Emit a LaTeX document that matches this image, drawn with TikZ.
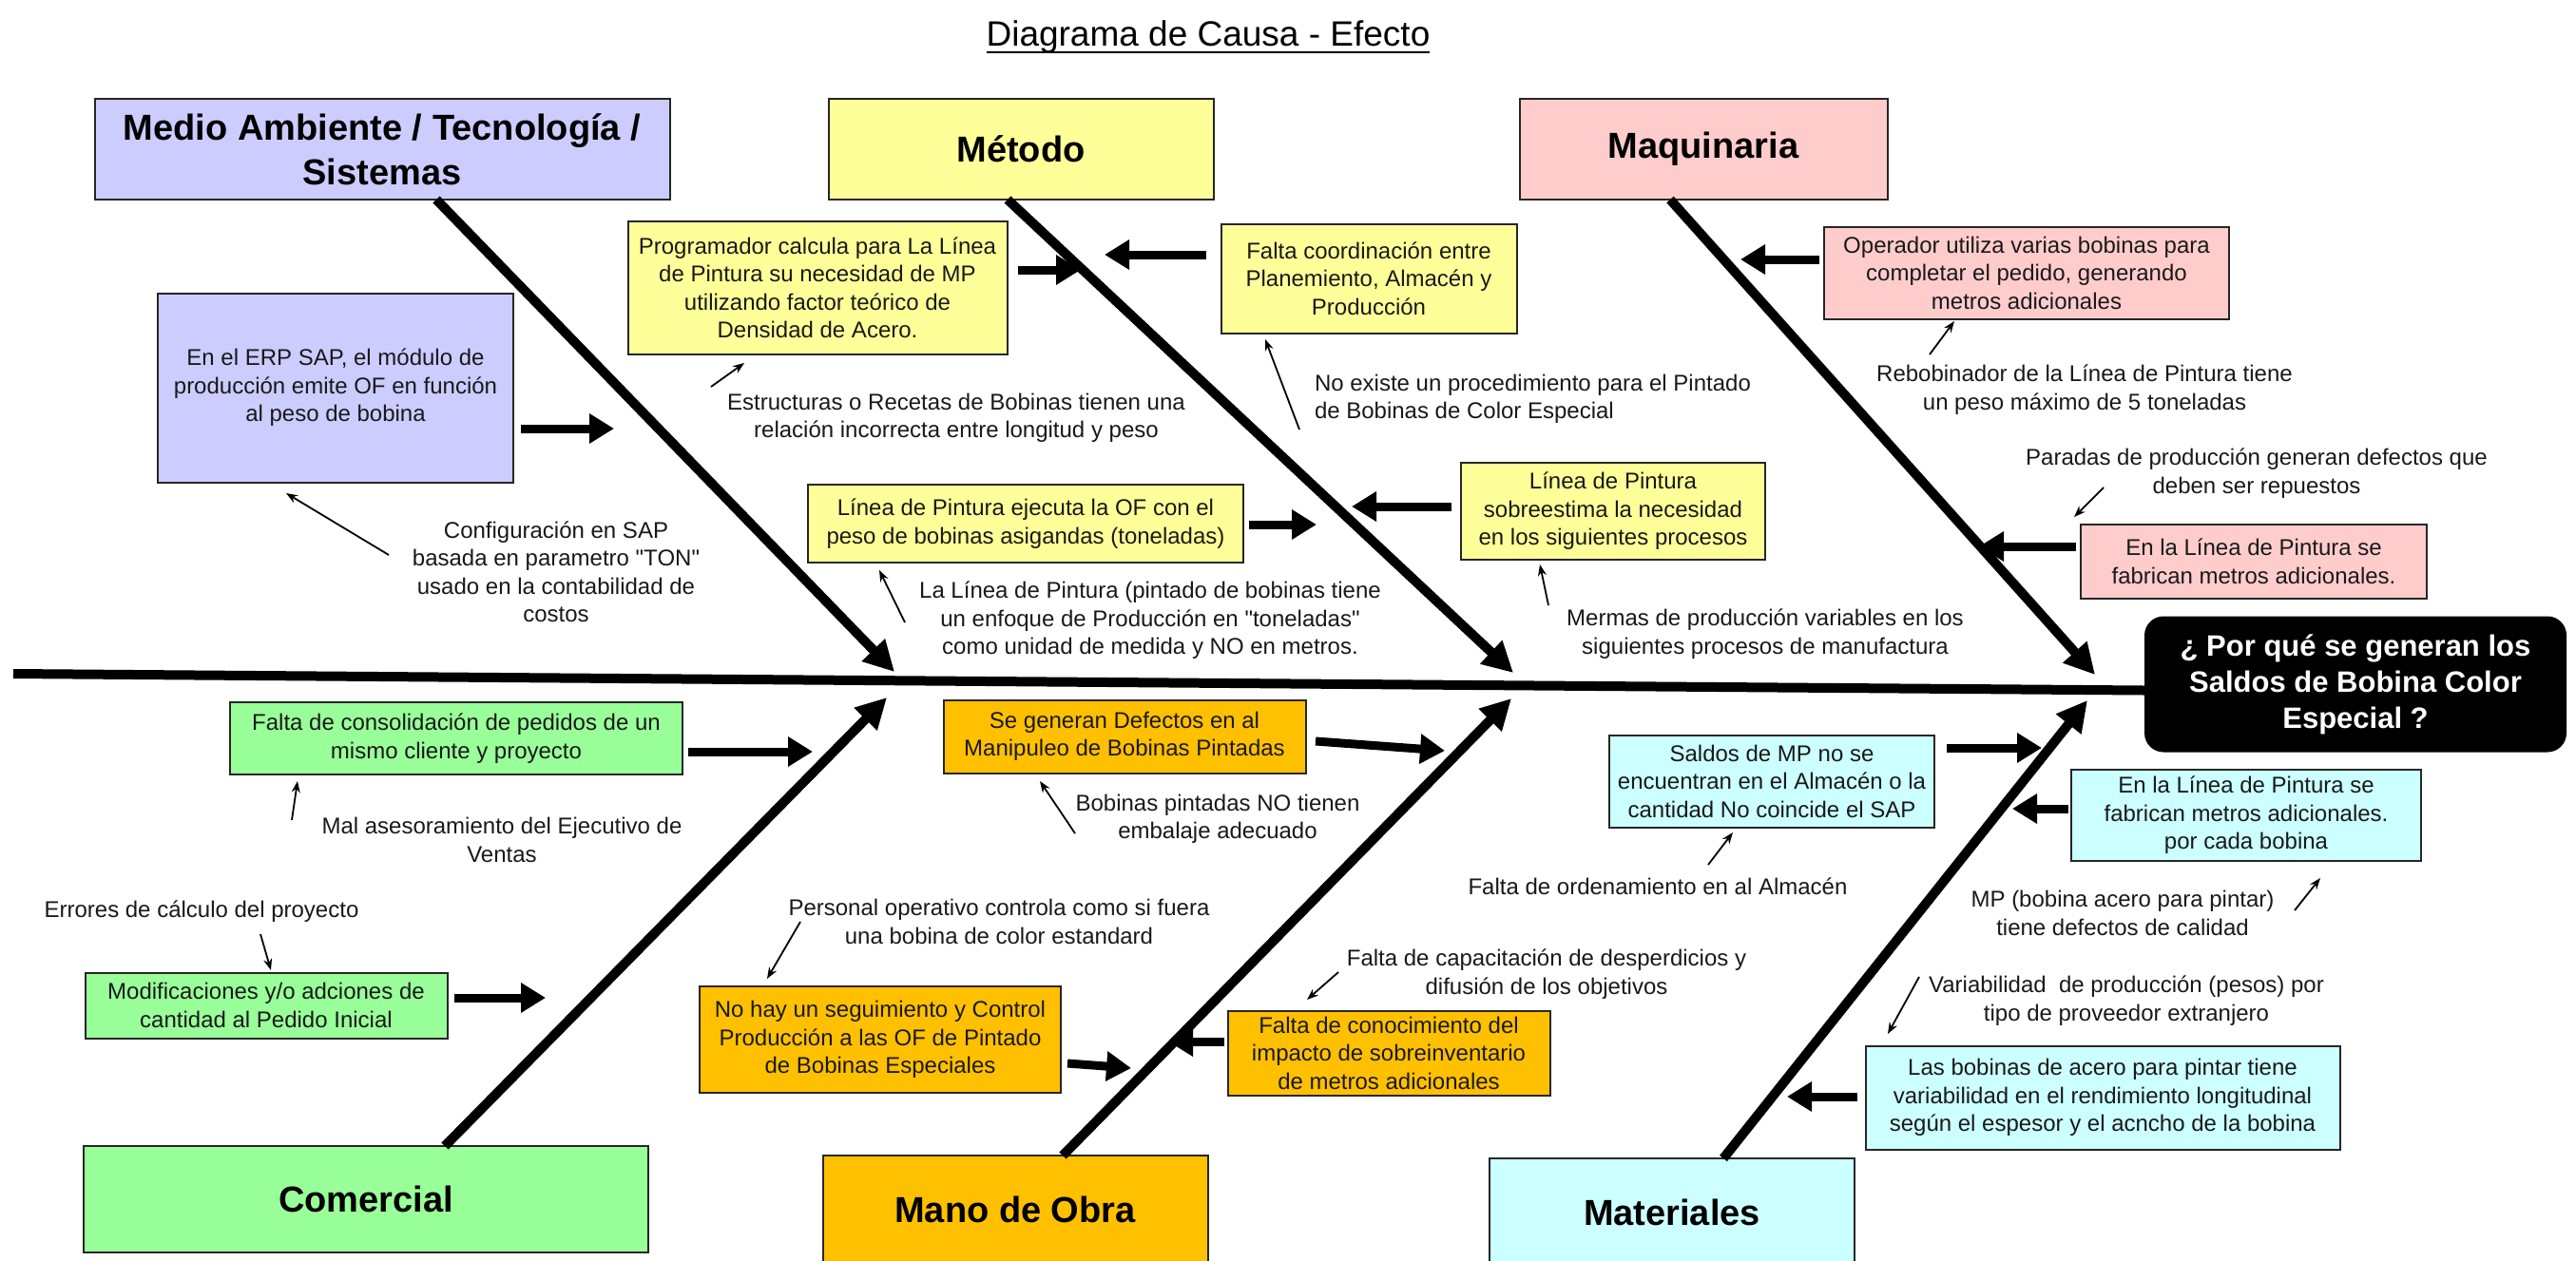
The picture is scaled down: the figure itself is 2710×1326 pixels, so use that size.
\documentclass[tikz,border=0pt]{standalone}
\usepackage{fontspec}
\setmainfont{Liberation Sans}
\usetikzlibrary{arrows.meta}
\definecolor{cLav}{HTML}{CCCCFF}
\definecolor{cYel}{HTML}{FFFF99}
\definecolor{cPink}{HTML}{FFCCCC}
\definecolor{cGreen}{HTML}{99FF99}
\definecolor{cOrange}{HTML}{FFC000}
\definecolor{cCyan}{HTML}{CCFFFF}
\begin{document}
\begin{tikzpicture}[x=1pt,y=-1pt,
  every node/.style={inner sep=0pt, outer sep=0pt},
  small/.style={font=\fontsize{24}{29.5}\selectfont, align=center, text=black!90},
  causebox/.style={small, draw=black!85, line width=2pt},
  catbox/.style={draw=black!85, line width=2pt, font=\fontsize{38}{47}\selectfont\bfseries, align=center},
  spine/.style={line width=10pt, -{Triangle[length=32pt,width=32pt]}},
  bigarrow/.style={line width=9pt, -{Triangle[length=26pt,width=30pt]}},
  pointer/.style={line width=1.8pt, -{Stealth[length=12pt,width=9pt]}},
]
\useasboundingbox (0,0) rectangle (2710,1326);
\fill[white] (0,0) rectangle (2710,1326);

% title
\node[font=\fontsize{37}{44}\selectfont, anchor=base] (title) at (1271,48) {Diagrama de Causa - Efecto};
\draw[line width=2.5pt] ([yshift=-7pt]title.base west) -- ([yshift=-7pt]title.base east);

% category boxes
\node[catbox, fill=cLav, minimum width=605pt, minimum height=106pt] (medio) at (402,157) {Medio Ambiente / Tecnología /\\Sistemas};
\node[catbox, fill=cYel, minimum width=405pt, minimum height=106pt] (metodo) at (1074,157) {Método};
\node[catbox, fill=cPink, minimum width=387pt, minimum height=106pt] (maquinaria) at (1792,157) {Maquinaria};
\node[catbox, fill=cGreen, minimum width=594pt, minimum height=112pt] (comercial) at (385,1262) {Comercial};
\node[catbox, fill=cOrange, minimum width=405pt, minimum height=114pt] (mano) at (1068,1273) {Mano de Obra};
\node[catbox, fill=cCyan, minimum width=384pt, minimum height=114pt] (materiales) at (1759,1276) {Materiales};

% effect
\node[fill=black, rounded corners=20pt, minimum width=444pt, minimum height=143pt, text=white,
  font=\fontsize{31}{38}\selectfont\bfseries, align=center] (effect) at (2478,720) {¿ Por qué se generan los\\Saldos de Bobina Color\\Especial ?};

% main spine
\coordinate (mainL) at (14,709);
\draw[line width=10pt] (mainL) -- ([yshift=-6.5pt]effect.west);

% bone tips
\coordinate (tMedio) at (941,707);
\coordinate (tMetodo) at (1592,708);
\coordinate (tMaq) at (2204,710);
\coordinate (tCom) at (933,734);
\coordinate (tMano) at (1590,735);
\coordinate (tMat) at (2196,737);
\draw[spine] ([xshift=57pt]medio.south) -- (tMedio);
\draw[spine] ([xshift=-14pt]metodo.south) -- (tMetodo);
\draw[spine] ([xshift=-35pt]maquinaria.south) -- (tMaq);
\draw[spine] ([xshift=83pt]comercial.north) -- (tCom);
\draw[spine] ([xshift=50pt]mano.north) -- (tMano);
\draw[spine] ([xshift=54pt]materiales.north) -- (tMat);

% cause boxes
\node[causebox, fill=cLav, minimum width=374pt, minimum height=199pt] (erp) at (353,408) {En el ERP SAP, el módulo de\\producción emite OF en función\\al peso de bobina};
\node[causebox, fill=cYel, minimum width=399pt, minimum height=140pt] (prog) at (860,303) {Programador calcula para La Línea\\de Pintura su necesidad de MP\\utilizando factor teórico de\\Densidad de Acero.};
\node[causebox, fill=cYel, minimum width=311pt, minimum height=115pt] (fcoord) at (1440,293) {Falta coordinación entre\\Planemiento, Almacén y\\Producción};
\node[causebox, fill=cYel, minimum width=458pt, minimum height=82pt] (ejec) at (1079,551) {Línea de Pintura ejecuta la OF con el\\peso de bobinas asigandas (toneladas)};
\node[causebox, fill=cYel, minimum width=320pt, minimum height=102pt] (sobre) at (1697,538) {Línea de Pintura\\sobreestima la necesidad\\en los siguientes procesos};
\node[causebox, fill=cPink, minimum width=426pt, minimum height=97pt] (oper) at (2132,287) {Operador utiliza varias bobinas para\\completar el pedido, generando\\metros adicionales};
\node[causebox, fill=cPink, minimum width=364pt, minimum height=78pt] (linA) at (2371,591) {En la Línea de Pintura se\\fabrican metros adicionales.};
\node[causebox, fill=cGreen, minimum width=476pt, minimum height=76pt] (fcons) at (480,777) {Falta de consolidación de pedidos de un\\mismo cliente y proyecto};
\node[causebox, fill=cGreen, minimum width=381pt, minimum height=69pt] (modif) at (280,1058) {Modificaciones y/o adciones de\\cantidad al Pedido Inicial};
\node[causebox, fill=cOrange, minimum width=381pt, minimum height=77pt] (defec) at (1183,775) {Se generan Defectos en al\\Manipuleo de Bobinas Pintadas};
\node[causebox, fill=cOrange, minimum width=380pt, minimum height=112pt] (nohay) at (926,1094) {No hay un seguimiento y Control\\Producción a las OF de Pintado\\de Bobinas Especiales};
\node[causebox, fill=cOrange, minimum width=339pt, minimum height=89pt] (fconoc) at (1461,1108) {Falta de conocimiento del\\impacto de sobreinventario\\de metros adicionales};
\node[causebox, fill=cCyan, minimum width=342pt, minimum height=97pt] (saldos) at (1864,822) {Saldos de MP no se\\encuentran en el Almacén o la\\cantidad No coincide el SAP};
\node[causebox, fill=cCyan, minimum width=368pt, minimum height=96pt] (linB) at (2363,858) {En la Línea de Pintura se\\fabrican metros adicionales.\\por cada bobina};
\node[causebox, fill=cCyan, minimum width=499pt, minimum height=109pt] (bobin) at (2212,1155) {Las bobinas de acero para pintar tiene\\variabilidad en el rendimiento longitudinal\\según el espesor y el acncho de la bobina};

% thick arrows
\coordinate (aErp) at (646,451);
\coordinate (aProg) at (1137,284);
\coordinate (aFcoord) at (1162,268);
\coordinate (aEjec) at (1385,552);
\coordinate (aSobre) at (1422,533);
\coordinate (aOper) at (1831,273);
\coordinate (aLinA) at (2082,575);
\coordinate (aFcons) at (855,791);
\coordinate (aModif) at (574,1050);
\coordinate (aDefecS) at (1384,780);
\coordinate (aDefec) at (1520,790);
\coordinate (aNohayS) at (1123,1119);
\coordinate (aNohay) at (1190,1124);
\coordinate (aFconoc) at (1229,1096);
\coordinate (aSaldos) at (2148,787);
\coordinate (aLinB) at (2117,851);
\coordinate (aBobin) at (1880,1154);
\draw[bigarrow] ([xshift=8pt]erp.east |- aErp) -- (aErp);
\draw[bigarrow] ([xshift=11pt]prog.east |- aProg) -- (aProg);
\draw[bigarrow] ([xshift=-16pt]fcoord.west |- aFcoord) -- (aFcoord);
\draw[bigarrow] ([xshift=6pt]ejec.east |- aEjec) -- (aEjec);
\draw[bigarrow] ([xshift=-10pt]sobre.west |- aSobre) -- (aSobre);
\draw[bigarrow] ([xshift=-5pt]oper.west |- aOper) -- (aOper);
\draw[bigarrow] ([xshift=-5pt]linA.west |- aLinA) -- (aLinA);
\draw[bigarrow] ([xshift=6pt]fcons.east |- aFcons) -- (aFcons);
\draw[bigarrow] ([xshift=7pt]modif.east |- aModif) -- (aModif);
\draw[bigarrow] (aDefecS) -- (aDefec);
\draw[bigarrow] (aNohayS) -- (aNohay);
\draw[bigarrow] ([xshift=-4pt]fconoc.west |- aFconoc) -- (aFconoc);
\draw[bigarrow] ([xshift=13pt]saldos.east |- aSaldos) -- (aSaldos);
\draw[bigarrow] ([xshift=-3pt]linB.west |- aLinB) -- (aLinB);
\draw[bigarrow] ([xshift=-9pt]bobin.west |- aBobin) -- (aBobin);

% free texts
\node[small] (tConfig) at (585,602) {Configuración en SAP\\basada en parametro \textquotedbl TON\textquotedbl\\usado en la contabilidad de\\costos};
\node[small] (tEstr) at (1006,440) {Estructuras o Recetas de Bobinas tienen una\\relación incorrecta entre longitud y peso};
\node[small, align=left, anchor=west] (tNoEx) at (1383,420) {No existe un procedimiento para el Pintado\\de Bobinas de Color Especial};
\node[small] (tLaLinea) at (1210,653) {La Línea de Pintura (pintado de bobinas tiene\\un enfoque de Producción en \textquotedbl toneladas\textquotedbl\\como unidad de medida y NO en metros.};
\node[small] (tRebob) at (2193,410) {Rebobinador de la Línea de Pintura tiene\\un peso máximo de 5 toneladas};
\node[small] (tParadas) at (2374,498) {Paradas de producción generan defectos que\\deben ser repuestos};
\node[small] (tMermas) at (1857,667) {Mermas de producción variables en los\\siguientes procesos de manufactura};
\node[small] (tMal) at (528,884) {Mal asesoramiento del Ejecutivo de\\Ventas};
\node[small] (tErrores) at (212,959) {Errores de cálculo del proyecto};
\node[small] (tBobPint) at (1281,862) {Bobinas pintadas NO tienen\\embalaje adecuado};
\node[small] (tPersonal) at (1051,970) {Personal operativo controla como si fuera\\una bobina de color estandard};
\node[small] (tFaltaCap) at (1627,1025) {Falta de capacitación de desperdicios y\\difusión de los objetivos};
\node[small] (tFaltaOrd) at (1744,933) {Falta de ordenamiento en al Almacén};
\node[small] (tMP) at (2233,961) {MP (bobina acero para pintar)\\tiene defectos de calidad};
\node[small] (tVariab) at (2237,1053) {Variabilidad~ de producción (pesos) por\\tipo de proveedor extranjero};

% pointers
\coordinate (pConfigA) at (409,584);   \coordinate (pConfigB) at (301,519);
\coordinate (pEstrA) at (748,407);     \coordinate (pEstrB) at (783,382);
\coordinate (pNoExA) at (1367,452);    \coordinate (pNoExB) at (1331,357);
\coordinate (pLaLinA) at (952,655);    \coordinate (pLaLinB) at (925,600);
\coordinate (pRebobA) at (2030,373);   \coordinate (pRebobB) at (2056,338);
\coordinate (pParA) at (2213,513);     \coordinate (pParB) at (2182,544);
\coordinate (pMermA) at (1629,637);    \coordinate (pMermB) at (1620,594);
\coordinate (pMalA) at (307,863);      \coordinate (pMalB) at (313,822);
\coordinate (pErrA) at (274,983);      \coordinate (pErrB) at (285,1021);
\coordinate (pBobA) at (1131,877);     \coordinate (pBobB) at (1094,822);
\coordinate (pPersA) at (842,970);     \coordinate (pPersB) at (807,1030);
\coordinate (pCapA) at (1408,1023);    \coordinate (pCapB) at (1375,1052);
\coordinate (pOrdA) at (1797,910);     \coordinate (pOrdB) at (1823,876);
\coordinate (pMPA) at (2414,958);      \coordinate (pMPB) at (2441,924);
\coordinate (pVarA) at (2019,1028);    \coordinate (pVarB) at (1986,1088);
\foreach \a/\b in {pConfigA/pConfigB, pEstrA/pEstrB, pNoExA/pNoExB, pLaLinA/pLaLinB,
  pRebobA/pRebobB, pParA/pParB, pMermA/pMermB, pMalA/pMalB, pErrA/pErrB, pBobA/pBobB,
  pPersA/pPersB, pCapA/pCapB, pOrdA/pOrdB, pMPA/pMPB, pVarA/pVarB}
  \draw[pointer] (\a) -- (\b);
\end{tikzpicture}
\end{document}
